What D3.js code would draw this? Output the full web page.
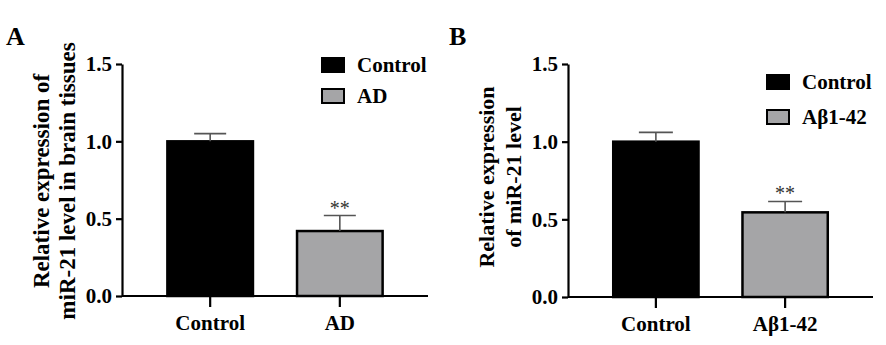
<!DOCTYPE html>
<html><head><meta charset="utf-8">
<script src="https://cdn.jsdelivr.net/npm/d3@7"></script>
<style>body{margin:0;background:#fff}svg{display:block}</style>
</head><body>
<svg id="c" width="886" height="345"></svg>
<script>
const categoriesA = ["Control", "AD"];
const meansA = [1.0, 0.42];
const errorsA = [0.05, 0.10];
const sigA = ["", "**"];
const titleA = ["Relative expression of", "miR-21 level in brain tissues"];

const categoriesB = ["Control", "Aβ1-42"];
const meansB = [1.0, 0.545];
const errorsB = [0.06, 0.07];
const sigB = ["", "**"];
const titleB = ["Relative expression", "of miR-21 level"];

const yTicks = [0.0, 0.5, 1.0, 1.5];
const colors = ["#000000", "#a5a5a7"];

const svg = d3.select("#c");
const FONT = "'Liberation Serif','Times New Roman',serif";

function panel(o) {
  const g = svg.append("g");
  const y = d3.scaleLinear().domain([0, 1.5]).range([o.y0, o.y1]);
  const x = d3.scaleBand().domain(o.cats).range([o.x0, o.x1]).paddingInner(0.34).paddingOuter(0.35);

  // bars
  g.selectAll("rect.bar").data(o.cats).enter().append("rect")
    .attr("x", d => x(d)).attr("width", x.bandwidth())
    .attr("y", (d, i) => y(o.means[i])).attr("height", (d, i) => y(0) - y(o.means[i]))
    .attr("fill", (d, i) => colors[i]).attr("stroke", "#000").attr("stroke-width", 2.5);

  // error bars
  o.cats.forEach((d, i) => {
    const cx = x(d) + x.bandwidth() / 2;
    const top = y(o.means[i] + o.errs[i]);
    g.append("line").attr("x1", cx).attr("x2", cx).attr("y1", y(o.means[i])).attr("y2", top)
      .attr("stroke", "#555").attr("stroke-width", 1.6);
    g.append("line").attr("x1", cx - o.cap).attr("x2", cx + o.cap).attr("y1", top).attr("y2", top)
      .attr("stroke", "#555").attr("stroke-width", 1.6);
    if (o.sig[i]) {
      g.append("text").attr("x", cx).attr("y", top - 1).attr("text-anchor", "middle")
        .attr("font-family", FONT).attr("font-size", 20).attr("fill", "#333").text(o.sig[i]);
    }
  });

  // y axis
  const ya = g.append("g").attr("transform", `translate(${o.x0},0)`)
    .call(d3.axisLeft(y).tickValues(yTicks).tickFormat(d3.format(".1f")).tickSize(6).tickSizeOuter(0));
  ya.select(".domain").attr("stroke-width", 2.2);
  ya.selectAll(".tick line").attr("stroke-width", 2.2);
  ya.selectAll("text").attr("font-family", FONT).attr("font-weight", "bold").attr("font-size", 21).attr("fill", "#000").attr("dx", -1);

  // x axis
  const xa = g.append("g").attr("transform", `translate(0,${o.y0})`)
    .call(d3.axisBottom(x).tickSize(11).tickSizeOuter(0));
  xa.select(".domain").attr("stroke-width", 2.2).attr("d", `M${o.x0},0H${o.x1}`);
  xa.selectAll(".tick line").attr("stroke-width", 2.2);
  xa.selectAll("text").attr("font-family", FONT).attr("font-weight", "bold").attr("font-size", 21).attr("fill", "#000").attr("dy", "0.95em");

  // y title
  o.title.forEach((t, k) => {
    g.append("text").attr("transform", `translate(${o.tx[k]},${o.ty}) rotate(-90)`)
      .attr("text-anchor", "middle").attr("font-family", FONT).attr("font-weight", "bold")
      .attr("font-size", o.tfs).text(t);
  });

  // panel letter
  g.append("text").attr("x", o.lx).attr("y", 45).attr("font-family", FONT).attr("font-weight", "bold")
    .attr("font-size", 26).text(o.letter);

  // legend
  o.cats.forEach((d, i) => {
    const ly = o.legY[i];
    g.append("rect").attr("x", o.legX).attr("y", ly).attr("width", 22).attr("height", 14)
      .attr("fill", colors[i]).attr("stroke", "#000").attr("stroke-width", 2);
    g.append("text").attr("x", o.legX + 35).attr("y", ly + 14).attr("font-family", FONT)
      .attr("font-weight", "bold").attr("font-size", 21).text(d);
  });
}

panel({cats: categoriesA, means: meansA, errs: errorsA, sig: sigA, title: titleA,
  x0: 122, x1: 428, y0: 296, y1: 64, cap: 16, tx: [49, 75], ty: 181, tfs: 23, lx: 6, letter: "A",
  legX: 322, legY: [58, 89]});
panel({cats: categoriesB, means: meansB, errs: errorsB, sig: sigB, title: titleB,
  x0: 568, x1: 873, y0: 297, y1: 64, cap: 17, tx: [494, 521], ty: 177, tfs: 22, lx: 449, letter: "B",
  legX: 767, legY: [75, 110]});
</script>
</body></html>
